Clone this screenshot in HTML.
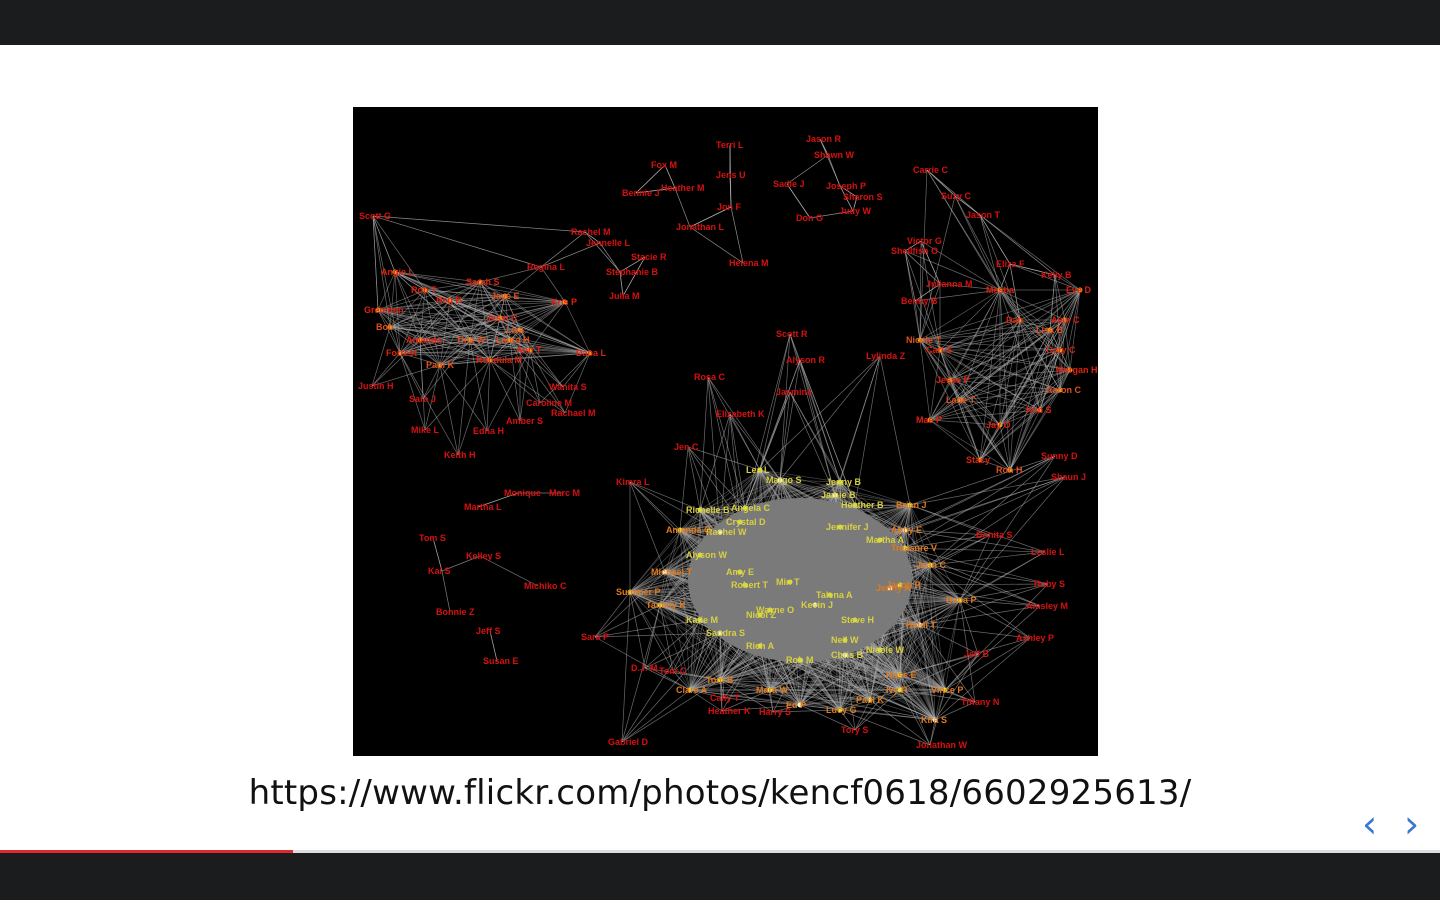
<!DOCTYPE html>
<html><head><meta charset="utf-8"><title>Network slide</title>
<style>
html,body{margin:0;padding:0;width:1440px;height:900px;overflow:hidden;background:#fff;font-family:"Liberation Sans",sans-serif}
#topbar{position:absolute;left:0;top:0;width:1440px;height:45px;background:#1b1c1e}
#botbar{position:absolute;left:0;top:853px;width:1440px;height:47px;background:#1b1c1e}
#progress{position:absolute;left:0;top:850px;width:293px;height:3px;background:#e0282e}
#progress-track{position:absolute;left:293px;top:850px;width:1147px;height:3px;background:#ddd}
#graph{position:absolute;left:353px;top:107px;width:745px;height:649px;background:#000}
#url{position:absolute;left:0;width:1440px;top:773px;text-align:center;font-family:"DejaVu Sans","Liberation Sans",sans-serif;font-size:34px;color:#111;letter-spacing:0.2px}
.nav{position:absolute;top:802px;font-size:38px;color:#3a78d0;font-family:"DejaVu Sans",sans-serif;cursor:pointer}
</style></head><body>
<div id="topbar"></div>
<svg id="graph" viewBox="353 107 745 649" width="745" height="649"></svg>
<div id="url">https://www.flickr.com/photos/kencf0618/6602925613/</div>
<div class="nav" style="left:1362px">&#x2039;</div>
<div class="nav" style="left:1404px">&#x203A;</div>
<div id="progress-track"></div>
<div id="progress"></div>
<div id="botbar"></div>
<script>
const nodeNames=["Terri L","Jason R","Shawn W","Fox M","Carrie C","Jens U","Heather M","Bennie J","Sadie J","Joseph P","Sharon S","Suzy C","Jon F","Judy W","Jason T","Don G","Scott G","Rachel M","Jonathan L","Victor G","Jennelle L","Shellfish O","Stacie R","Helena M","Regina L","Eliza F","Stephanie B","Kelly B","Julianna M","Julia M","Benny B","Scott R","Alyson R","Lylinda Z","Rosa C","Jasmine","Elizabeth K","Jen C","Kimra L","Monique","Marc M","Martha L","Tom S","Kelley S","Kai S","Michiko C","Bonnie Z","Jeff S","Susan E","Sara P","D.J. M","Tom C","Cally T","Heather K","Harry S","Tory S","Gabriel D","Jonathan W","Tiffany N","Jeff B","Ashley P","Ainsley M","Ruby S","Leslie L","Bonita S","Shaun J","Sunny D","Wanita S","Caroline M","Rachael M","Amber S","Edna H","Mike L","Keith H","Justin H","Sara J",
"Angie L","Gretchen","Bob","Forrest","Amanda","Pam K","Sarah S","Jessi C","Laura H","Ann T","Rondula M","Jaye E","Dana L","Kris P","Tina W","Reg B","Rob T","Lisa",
"Mesha","Dan","Lisa B","Cory C","Morgan H","Aaron C","Kim S","Jay O","Lane T","Jesse P","Carl S","Nicole T","Mae P","Stacy","Ron H","Alan C","Eve D",
"Jenny B","Jamie B","Heather B","Crystal D","Jennifer J","Rachel W","Amy E","Robert T","Alyson W","Kevin J","Talena A","Steve H","Neil W","Chris B","Martha A","Treasure V","Min T","Jenny A","Wayne O","Nicol Z","Angela C","Margo S","Lea L","Richelle B","Amanda G","Michael T","Summer P","Tammy K","Katie M","Sandra S","Rich A","Rob M","Brian J","Abby E","Joan C","Jacob R","Dana P","Heidi T","Nicole W","Hoss E","Vince P","Kira S","Clare A","Tom B","Mara W","Ed P","Lucy G","Paul K","Ivy R","Greg T"];
const nodeX=[730,820,828,665,927,730,675,636,787,840,857,955,731,853,980,810,373,585,690,921,600,905,645,743,541,1010,620,1055,940,623,915,790,800,880,708,790,730,688,630,518,563,478,433,480,442,538,450,490,497,595,645,673,724,722,773,855,622,930,975,978,1030,1040,1048,1045,990,1065,1055,563,540,565,520,487,425,458,372,423,
395,378,390,400,420,440,480,500,510,530,490,505,590,565,470,450,425,520,
1000,1020,1050,1060,1070,1060,1040,1000,960,950,940,920,930,980,1010,1065,1080,
840,835,855,740,840,720,740,745,700,815,830,855,845,845,880,905,790,890,770,760,745,780,760,700,680,665,630,660,700,720,760,800,910,905,930,900,960,920,880,900,945,935,690,720,770,800,840,870,900];
const nodeY=[145,139,155,165,170,175,188,193,184,186,197,196,207,211,215,218,216,232,227,241,243,251,257,263,267,264,272,275,284,296,301,334,360,356,377,392,414,447,482,493,493,507,538,556,571,586,612,631,661,637,668,671,698,711,712,730,742,745,702,654,638,606,584,552,535,477,456,387,403,413,421,431,430,455,386,399,
272,310,327,353,340,365,282,318,340,350,360,296,353,302,340,300,290,330,
290,320,330,350,370,390,410,425,400,380,350,340,420,460,470,320,290,
482,495,505,522,527,532,572,585,555,605,595,620,640,655,540,548,582,588,610,615,508,480,470,510,530,572,592,605,620,633,646,660,505,530,565,585,600,625,650,675,690,720,690,680,690,705,710,700,690];
// groups: T top arc, C links to center, P loose periphery, l links to left cluster, L left cluster, R right cluster, M center core
const groupNames=['T','C','P','C','l','L','R','M'];
const groupCounts=[31,8,10,18,9,18,17,49];
const nodeGroup=[];groupNames.forEach((g,k)=>{for(let i=0;i<groupCounts[k];i++)nodeGroup.push(g);});
const NS="http://www.w3.org/2000/svg";
const svg=document.getElementById('graph');
const edges=document.createElementNS(NS,'g');


svg.appendChild(edges);
const core=document.createElementNS(NS,'ellipse');
core.setAttribute('cx',800);core.setAttribute('cy',580);core.setAttribute('rx',112);core.setAttribute('ry',82);
core.setAttribute('fill','#7a7a7a');


svg.appendChild(core);
function line(a,b,op){const l=document.createElementNS(NS,'line');
l.setAttribute('x1',nodeX[a]);l.setAttribute('y1',nodeY[a]);l.setAttribute('x2',nodeX[b]);l.setAttribute('y2',nodeY[b]);
l.setAttribute('stroke','#b0b0b0');l.setAttribute('stroke-width','0.7');l.setAttribute('stroke-opacity',op);


edges.appendChild(l);}
const idx=g=>nodeGroup.map((v,i)=>v===g?i:-1).filter(i=>i>=0);
function nearest(i,list,k){return list.filter(j=>j!==i).sort((a,b)=>Math.hypot(nodeX[a]-nodeX[i],nodeY[a]-nodeY[i])-Math.hypot(nodeX[b]-nodeX[i],nodeY[b]-nodeY[i])).slice(0,k);}
const L=idx('L'),R=idx('R'),M=idx('M'),T=idx('T'),C=idx('C'),P=idx('P'),Lp=idx('l');
[L,R].forEach(g=>{for(let a=0;a<g.length;a++)for(let b=a+1;b<g.length;b++)line(g[a],g[b],0.55);});
for(let a=0;a<M.length;a++)for(let b=a+1;b<M.length;b++)line(M[a],M[b],0.4);
T.forEach(i=>{nearest(i,T,2).forEach(j=>line(i,j,0.8));const lr=nodeX[i]<560?L:(nodeX[i]>880?R:[]);nearest(i,lr,3).forEach(j=>line(i,j,0.6));});
C.forEach(i=>{nearest(i,M,6).forEach(j=>line(i,j,0.6));});
Lp.forEach(i=>{nearest(i,L,4).forEach(j=>line(i,j,0.6));});
P.forEach(i=>{nearest(i,P,1).forEach(j=>line(i,j,0.7));});
[...L.slice(0,4),...R.slice(0,4)].forEach(i=>nearest(i,T,1).forEach(j=>line(i,j,0.6)));
const labels=document.createElementNS(NS,'g');
svg.appendChild(labels);
nodeNames.forEach((n,i)=>{const g=nodeGroup[i];
const col=g==='M'?(nodeX[i]>880||nodeY[i]>660||nodeX[i]<690?'#e07a20':'#d8d040'):(g==='L'||g==='R'?(i%3===0?'#e05020':'#e02010'):'#d81010');
if(g==='M'||g==='L'||g==='R'){const c=document.createElementNS(NS,'circle');c.setAttribute('cx',nodeX[i]);c.setAttribute('cy',nodeY[i]);c.setAttribute('r',2.5);
c.setAttribute('fill',g==='M'?(i%4===0?'#f0f0d0':'#d8e040'):'#e0a020');


labels.appendChild(c);}
const t=document.createElementNS(NS,'text');t.setAttribute('x',nodeX[i]-14);t.setAttribute('y',nodeY[i]+3);
t.setAttribute('fill',col);t.setAttribute('font-size','9');t.setAttribute('font-weight','bold');t.setAttribute('font-family','Liberation Sans, sans-serif');
t.textContent=n;


labels.appendChild(t);});
</script>
</body></html>
